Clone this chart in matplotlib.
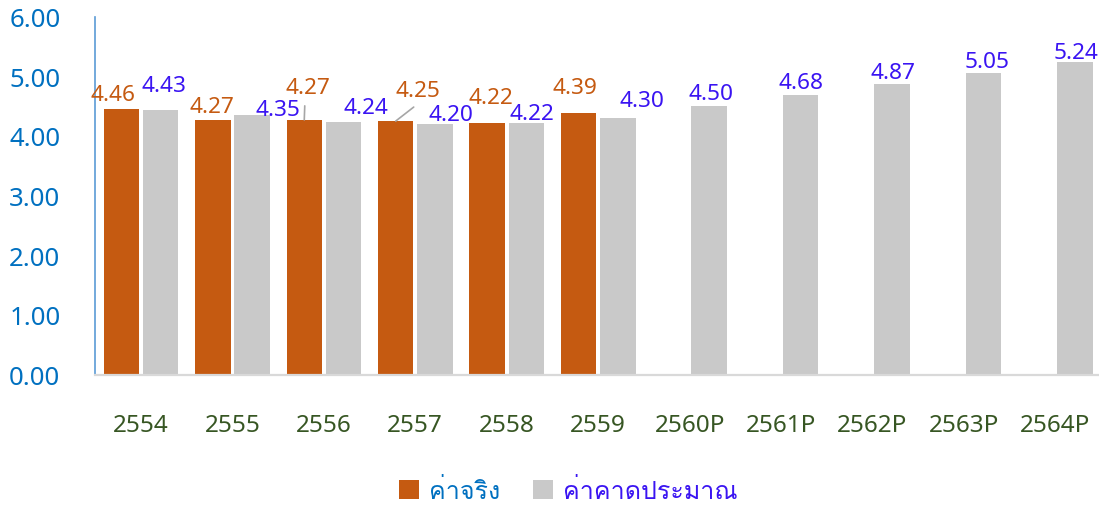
import numpy as np
import matplotlib
matplotlib.use("Agg")
import matplotlib.pyplot as plt
from matplotlib import font_manager
from matplotlib.ft2font import FT2Font
from matplotlib.patches import Patch

# ข้อมูล
years = ["2554", "2555", "2556", "2557", "2558", "2559",
         "2560P", "2561P", "2562P", "2563P", "2564P"]
actual = [4.46, 4.27, 4.27, 4.25, 4.22, 4.39]
forecast = [4.43, 4.35, 4.24, 4.20, 4.22, 4.30, 4.50, 4.68, 4.87, 5.05, 5.24]
legend_labels = ["ค่าจริง", "ค่าคาดประมาณ"]

# label offsets (pixels from bar top, label centre)
actual_off = [(-8, 17), (-1, 16), (3.5, 35), (22, 34), (3.5, 28), (-3.5, 28)]
forecast_off = [(3, 28), (26, 9), (23, 17), (16.5, 13), (5.5, 12), (24, 21),
                (1.5, 16), (0, 15.5), (0.5, 14.5), (3, 14.5), (0.5, 12.5)]
leaders = {2: (0.5, 14), 3: (18, 14)}

ORANGE = "#C55A11"
GRAY = "#C9C9C9"
BLUE_TXT = "#3A14F2"
TICK_BLUE = "#0070C0"
TICK_GREEN = "#375623"


def find_thai_font():
    for f in font_manager.fontManager.ttflist:
        try:
            if 0x0E04 in FT2Font(f.fname).get_charmap():
                return f.name
        except Exception:
            pass
    return None


thai = find_thai_font()
fam = ["Noto Sans", thai, "DejaVu Sans"] if thai else ["Noto Sans", "DejaVu Sans"]
plt.rcParams["font.family"] = ["Noto Sans", "DejaVu Sans"]

fig = plt.figure(figsize=(10.99, 5.06), dpi=100)
ax = fig.add_axes([95.2 / 1099, 0.2579, (1099 - 95.2) / 1099, 0.7071])

x = np.arange(len(years))
w = 0.388
d = 0.214
xa = x[:len(actual)] - d
xf = x + d

ax.bar(xa, actual, width=w, color=ORANGE, zorder=2)
ax.bar(xf, forecast, width=w, color=GRAY, zorder=2)

ax.set_xlim(-0.5, 10.476)
ax.set_ylim(0, 6)
ax.set_yticks(np.arange(0, 6.01, 1))
ax.set_yticklabels([f"{v:.2f}" for v in np.arange(0, 6.01, 1)])
ax.set_xticks(x)
ax.set_xticklabels(years)
ax.tick_params(axis="y", length=0, pad=25, labelsize=18.5, labelcolor=TICK_BLUE)
ax.tick_params(axis="x", length=0, pad=28, labelsize=17.5, labelcolor=TICK_GREEN)

for s in ["top", "right"]:
    ax.spines[s].set_visible(False)
ax.spines["left"].set_color("#5B9BD5")
ax.spines["left"].set_linewidth(1.2)
ax.spines["bottom"].set_color("#D9D9D9")
ax.spines["bottom"].set_linewidth(1.6)


def label(xv, yv, off, color):
    ax.annotate(f"{yv:.2f}", xy=(xv, yv), xytext=(off[0], off[1] - 8.5),
                textcoords="offset pixels", ha="center", va="baseline",
                fontsize=16.3, color=color, zorder=4)


for i, v in enumerate(actual):
    label(xa[i], v, actual_off[i], ORANGE)
for i, v in enumerate(forecast):
    label(xf[i], v, forecast_off[i], BLUE_TXT)

for i, off in leaders.items():
    ax.annotate("", xy=(xa[i], actual[i]), xytext=off, textcoords="offset pixels",
                arrowprops=dict(arrowstyle="-", color="#A6A6A6", lw=1.2,
                                shrinkA=0, shrinkB=0), zorder=3)

handles = [Patch(facecolor=ORANGE), Patch(facecolor=GRAY)]
leg = fig.legend(handles, legend_labels, loc="center",
                 bbox_to_anchor=(568 / 1099, 1 - 493 / 506), ncol=2,
                 frameon=False, prop={"family": fam, "size": 18},
                 handlelength=0.8, handleheight=0.8, handletextpad=0.4,
                 columnspacing=1.3)
for t, c in zip(leg.get_texts(), [TICK_BLUE, BLUE_TXT]):
    t.set_color(c)

fig.savefig("out.png", dpi=100)
